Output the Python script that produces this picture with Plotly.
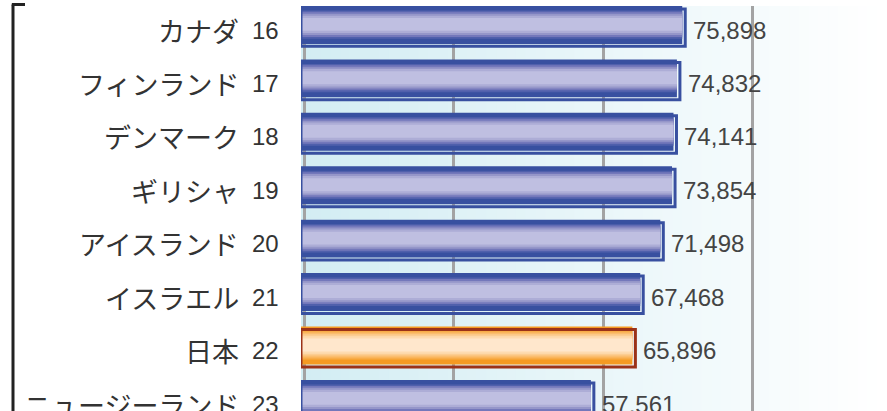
import plotly.graph_objects as go

# ---- data ----
countries = ["カナダ", "フィンランド", "デンマーク", "ギリシャ", "アイスランド", "イスラエル", "日本", "ニュージーランド"]
ranks = [16, 17, 18, 19, 20, 21, 22, 23]
values = [75898, 74832, 74141, 73854, 71498, 67468, 65896, 57561]
highlight = "日本"

# ---- styling ----
blue_ramp = ["#3850a0", "#5060ac", "#7478bb", "#9596c9", "#adadd6", "#bfbfe1"]
orange_ramp = ["#f59a22", "#f8ac48", "#fbbd6e", "#fccd92", "#fedbb0", "#ffe7cc"]
layer_frac = [1.0, 0.76, 0.66, 0.56, 0.46, 0.34]
blue_edge = "#3850a0"
orange_edge = "#9b3218"

W, H = 887, 411
ML, MT = 301, 6
plot_w = W - ML
plot_h = H - MT
units_per_px = 30000 / 149.5
XMIN = -3 * units_per_px
XMAX = XMIN + plot_w * units_per_px
band_px = 53.43
YTOP = -24 / band_px
YBOT = YTOP + plot_h / band_px

pos = list(range(len(countries)))
is_hi = [c == highlight for c in countries]

bar_off = -0.45
bar_w = 0.71
center = bar_off + bar_w / 2 - 0.01

fig = go.Figure()

# gradient bars as stacked, narrowing stripes
for k, frac in enumerate(layer_frac):
    wk = bar_w * frac
    cols = [orange_ramp[k] if h else blue_ramp[k] for h in is_hi]
    c = bar_off + bar_w / 2 if k == 0 else center
    fig.add_trace(go.Bar(
        orientation="h", y=pos, x=[v - XMIN for v in values], base=XMIN,
        offset=c - wk / 2, width=wk,
        marker=dict(color=cols, line=dict(width=0)),
        hoverinfo="skip", showlegend=False,
    ))

# offset outline frame
shift_units = 3 * units_per_px
shift_y = 3 / band_px
fig.add_trace(go.Bar(
    orientation="h", y=pos, x=[v + shift_units - XMIN for v in values], base=XMIN,
    offset=bar_off + shift_y, width=bar_w - 0.01,
    marker=dict(color="rgba(0,0,0,0)",
                line=dict(color=[orange_edge if h else blue_edge for h in is_hi], width=3)),
    hoverinfo="skip", showlegend=False,
))

# background gradient
shapes = []
N = 60
c0 = (211, 237, 243)
c1 = (255, 255, 255)
for k in range(N):
    t = k / (N - 1)
    col = tuple(round(c0[i] + (c1[i] - c0[i]) * t) for i in range(3))
    shapes.append(dict(type="rect", xref="paper", yref="paper",
                       x0=k / N, x1=min(1, (k + 1.6) / N), y0=0, y1=1,
                       fillcolor="rgb(%d,%d,%d)" % col, line=dict(width=0), layer="below"))

# left bracket
bx = (13 - ML) / plot_w
bx2 = (25 - ML) / plot_w
btop = 1 + 1.5 / plot_h
shapes.append(dict(type="line", xref="paper", yref="paper", x0=bx, x1=bx, y0=btop, y1=-0.05,
                   line=dict(color="#222222", width=3)))
shapes.append(dict(type="line", xref="paper", yref="paper", x0=bx - 0.002, x1=bx2, y0=btop, y1=btop,
                   line=dict(color="#222222", width=3)))

annotations = []
for p, v in zip(pos, values):
    annotations.append(dict(x=v, y=p, xref="x", yref="y", text=f"{v:,}", showarrow=False,
                            xanchor="left", yanchor="middle", xshift=9,
                            font=dict(family="Liberation Sans, Arial", size=24, color="#444444")))
for p, name, r in zip(pos, countries, ranks):
    annotations.append(dict(x=(241 - ML) / plot_w, y=p, xref="paper", yref="y", text=name,
                            showarrow=False, xanchor="right", yanchor="middle",
                            font=dict(family="Noto Sans CJK JP", size=27, color="#333333")))
    annotations.append(dict(x=(281 - ML) / plot_w, y=p, xref="paper", yref="y", text=str(r),
                            showarrow=False, xanchor="right", yanchor="middle",
                            font=dict(family="Liberation Sans, Arial", size=24, color="#333333")))

fig.update_layout(
    width=W, height=H,
    margin=dict(l=ML, r=0, t=MT, b=0, pad=0),
    paper_bgcolor="white", plot_bgcolor="rgba(0,0,0,0)",
    barmode="overlay",
    shapes=shapes, annotations=annotations,
    xaxis=dict(range=[XMIN, XMAX], showticklabels=False, ticks="",
               tick0=0, dtick=30000, showgrid=True, gridcolor="#a3a3a3", gridwidth=2.5,
               zeroline=False, showline=False, fixedrange=True),
    yaxis=dict(range=[YBOT, YTOP], tickmode="array", tickvals=pos, ticktext=countries,
               showticklabels=False, ticks="",
               showgrid=False, zeroline=False, showline=False, fixedrange=True),
    yaxis2=dict(range=[YBOT, YTOP], overlaying="y", anchor="free", position=4.5 / plot_w,
                side="left", tickmode="array", tickvals=[p - 0.5 for p in pos],
                showticklabels=False, ticks="inside", ticklen=13, tickwidth=3, tickcolor="#222222",
                showline=True, linewidth=3, linecolor="#222222",
                showgrid=False, zeroline=False, fixedrange=True),
)

fig.write_html("out.html", config={"displayModeBar": False},
               post_script="document.body.style.margin='0';document.body.style.overflow='hidden';")
